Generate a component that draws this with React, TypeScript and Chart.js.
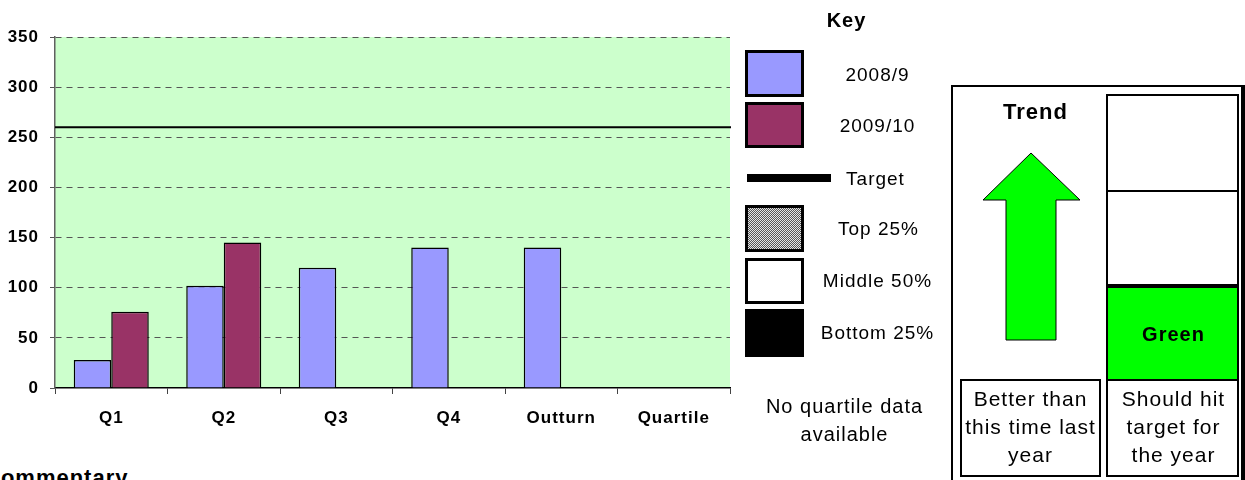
import React, { useEffect, useRef } from "react";
import { Chart, registerables } from "chart.js";

Chart.register(...registerables);

const CATEGORIES = ["Q1", "Q2", "Q3", "Q4", "Outturn", "Quartile"];
const SERIES_2008_9: (number | null)[] = [28, 102, 120, 140, 140, null];
const SERIES_2009_10: (number | null)[] = [76, 145, null, null, null, null];
const TARGET = 260;
const Y_MIN = 0;
const Y_MAX = 350;
const Y_STEP = 50;

const FONT = '"Liberation Sans", Arial, Helvetica, sans-serif';

type LabelProps = {
  cx: number;
  baseline: number;
  size: number;
  bold?: boolean;
  lines: string[];
  lineHeight?: number;
  spacing?: number;
};

function Label({ cx, baseline, size, bold, lines, lineHeight, spacing = 1 }: LabelProps) {
  const L = lineHeight ?? Math.round(size * 1.3);
  const top = baseline - (L - 1.117 * size) / 2 - 0.905 * size;
  return (
    <div
      style={{
        position: "absolute",
        left: cx - 150 + spacing / 2,
        width: 300,
        top,
        textAlign: "center",
        fontFamily: FONT,
        fontSize: size,
        fontWeight: bold ? "bold" : "normal",
        lineHeight: L + "px",
        letterSpacing: spacing + "px",
        whiteSpace: "pre",
        color: "#000",
      }}
    >
      {lines.join("\n")}
    </div>
  );
}

function Box({ x, y, w, h, style }: { x: number; y: number; w: number; h: number; style: React.CSSProperties }) {
  return (
    <div
      style={{
        position: "absolute",
        left: x,
        top: y,
        width: w,
        height: h,
        boxSizing: "border-box",
        ...style,
      }}
    />
  );
}

const bgPlugin = {
  id: "bgPlugin",
  beforeDraw(chart: any) {
    const { ctx, chartArea } = chart;
    ctx.save();
    ctx.fillStyle = "#CCFFCC";
    ctx.fillRect(chartArea.left, chartArea.top, chartArea.right - chartArea.left, chartArea.bottom - chartArea.top);
    ctx.restore();
    ctx.letterSpacing = "1px";
  },
};

const targetPlugin = {
  id: "targetPlugin",
  afterDatasetsDraw(chart: any) {
    const { ctx, chartArea, scales } = chart;
    const y = scales.y.getPixelForValue(TARGET);
    ctx.save();
    ctx.strokeStyle = "#000";
    ctx.lineWidth = 2;
    ctx.beginPath();
    ctx.moveTo(chartArea.left, y);
    ctx.lineTo(chartArea.right + 1, y);
    ctx.stroke();
    ctx.restore();
  },
};

export default function App() {
  const ref = useRef<HTMLCanvasElement | null>(null);

  useEffect(() => {
    if (!ref.current) return;
    const chart = new Chart(ref.current, {
      type: "bar",
      data: {
        labels: CATEGORIES,
        datasets: [
          {
            label: "2008/9",
            data: SERIES_2008_9,
            backgroundColor: "#9999FF",
            borderColor: "#000",
            borderWidth: 1.5,
            barPercentage: 1,
            categoryPercentage: 0.667,
          },
          {
            label: "2009/10",
            data: SERIES_2009_10,
            backgroundColor: "#993366",
            borderColor: "#000",
            borderWidth: 1.5,
            barPercentage: 1,
            categoryPercentage: 0.667,
          },
        ],
      },
      options: {
        responsive: false,
        animation: false,
        layout: { padding: { top: 37, right: 10, left: 0, bottom: 0 } },
        plugins: {
          legend: { display: false },
          tooltip: { enabled: false },
          title: { display: false },
        },
        scales: {
          x: {
            offset: true,
            grid: {
              offset: true,
              drawOnChartArea: false,
              drawTicks: true,
              tickLength: 6,
              tickColor: "#444",
              color: "#444",
            },
            border: { color: "#000", width: 1.5 },
            ticks: {
              font: { family: FONT, size: 17, weight: "bold" },
              color: "#000",
              padding: 14,
              maxRotation: 0,
              autoSkip: false,
            },
            afterFit(scale: any) {
              scale.height = 52;
            },
          },
          y: {
            min: Y_MIN,
            max: Y_MAX,
            ticks: {
              stepSize: Y_STEP,
              font: { family: FONT, size: 17, weight: "bold" },
              color: "#000",
              padding: 11,
            },
            grid: {
              color: (ctx: any) => (ctx.tick && ctx.tick.value === 0 ? "rgba(0,0,0,0)" : "#555"),
              lineWidth: 1,
              tickLength: 5,
              tickColor: "#555",
              tickBorderDash: [],
            },
            border: { color: "#606060", width: 1.5, dash: [6, 5] },
            afterFit(scale: any) {
              scale.width = 55;
            },
          },
        },
      } as any,
      plugins: [bgPlugin, targetPlugin],
    });
    return () => chart.destroy();
  }, []);

  return (
    <div
      style={{
        position: "absolute",
        left: 0,
        top: 0,
        width: 1245,
        height: 480,
        overflow: "hidden",
        background: "#fff",
        fontFamily: FONT,
      }}
    >
      <canvas ref={ref} width={740} height={440} style={{ position: "absolute", left: 0, top: 0 }} />

      {/* Commentary heading (cut off at the bottom) */}
      <div
        style={{
          position: "absolute",
          left: -16,
          top: 486 - (26 - 1.117 * 22) / 2 - 0.905 * 22,
          fontFamily: FONT,
          fontSize: 22,
          fontWeight: "bold",
          lineHeight: "26px",
          letterSpacing: "1px",
          whiteSpace: "pre",
        }}
      >
        Commentary
      </div>

      {/* Key */}
      <Label cx={846} baseline={26.7} size={20} bold lines={["Key"]} />
      <Box x={745} y={50} w={59} h={47} style={{ border: "3px solid #000", background: "#9999FF" }} />
      <Label cx={877} baseline={80.7} size={19} lines={["2008/9"]} />
      <Box x={745} y={102} w={59} h={46} style={{ border: "3px solid #000", background: "#993366" }} />
      <Label cx={877} baseline={131.7} size={19} lines={["2009/10"]} />
      <Box x={747} y={174} w={84} h={8} style={{ background: "#000" }} />
      <Label cx={875} baseline={185} size={19} lines={["Target"]} />
      <Box
        x={745}
        y={205}
        w={59}
        h={47}
        style={{
          border: "3px solid #000",
          background: "repeating-conic-gradient(#555 0% 25%, #e4e4e4 0% 50%) 0 0 / 2px 2px",
        }}
      />
      <Label cx={878} baseline={235} size={19} lines={["Top 25%"]} />
      <Box x={745} y={258} w={59} h={46} style={{ border: "3px solid #000", background: "#fff" }} />
      <Label cx={877} baseline={286.7} size={19} lines={["Middle 50%"]} />
      <Box x={745} y={309} w={59} h={48} style={{ background: "#000" }} />
      <Label cx={877} baseline={339} size={19} lines={["Bottom 25%"]} />
      <Label cx={844} baseline={412.7} size={20} lineHeight={28} lines={["No quartile data", "available"]} />

      {/* Trend panel */}
      <Box x={951} y={85} w={294} h={420} style={{ borderTop: "2px solid #000", borderLeft: "2px solid #000", borderRight: "4px solid #000" }} />
      <Label cx={1035} baseline={119.5} size={22} bold lines={["Trend"]} />
      <svg
        width={120}
        height={200}
        style={{ position: "absolute", left: 970, top: 145 }}
        viewBox="970 145 120 200"
      >
        <polygon
          points="1031,153 1080,200 1056,200 1056,340 1006,340 1006,200 983,200"
          fill="#00FF00"
          stroke="#000"
          strokeWidth={1}
        />
      </svg>
      <Box x={960} y={379} w={141} h={98} style={{ border: "2px solid #000", background: "#fff" }} />
      <Label cx={1030} baseline={406.7} size={21} lineHeight={28} lines={["Better than", "this time last", "year"]} />

      <Box x={1106} y={94} w={133} h={98} style={{ border: "2px solid #000", background: "#fff" }} />
      <Box x={1106} y={190} w={133} h={97} style={{ border: "2px solid #000", borderTop: "2px solid #000", background: "#fff" }} />
      <Box x={1106} y={284} w={133} h={97} style={{ border: "2px solid #000", borderTop: "4px solid #000", background: "#00FF00" }} />
      <Label cx={1173} baseline={340.7} size={20} bold lines={["Green"]} />
      <Box x={1106} y={379} w={133} h={98} style={{ border: "2px solid #000", background: "#fff" }} />
      <Label cx={1173} baseline={406.7} size={21} lineHeight={28} lines={["Should hit", "target for", "the year"]} />
    </div>
  );
}
